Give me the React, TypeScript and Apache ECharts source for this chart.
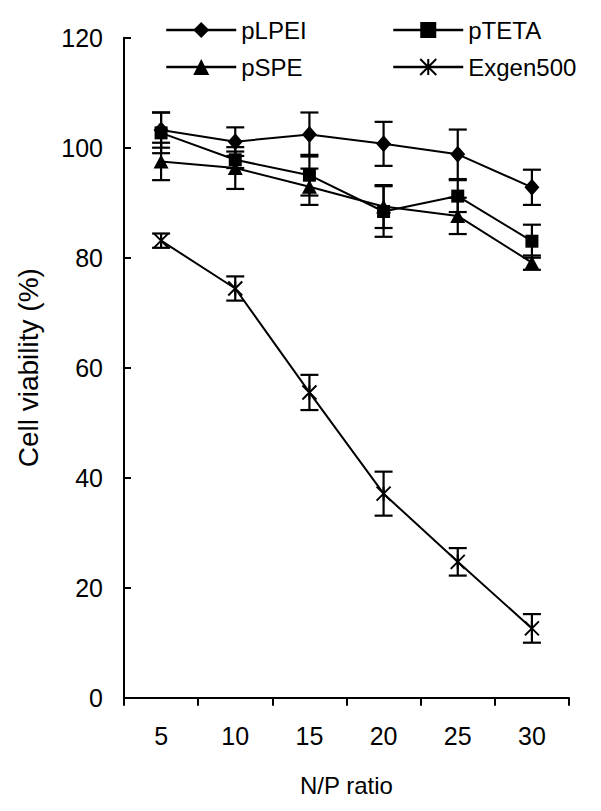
import React, { useEffect, useRef } from "react";
import * as echarts from "echarts";

const categories = ["5", "10", "15", "20", "25", "30"];
const yTicks = [0, 20, 40, 60, 80, 100, 120];

const pLPEI = [103.2, 101.1, 102.4, 100.7, 98.8, 92.8];
const pLPEIErr = [3.2, 2.6, 4.0, 4.0, 4.5, 3.2];
const pTETA = [102.7, 97.8, 95.0, 88.4, 91.2, 83.0];
const pTETAErr = [3.7, 1.5, 3.7, 4.6, 2.9, 3.0];
const pSPE = [97.5, 96.3, 92.9, 89.3, 87.6, 79.1];
const pSPEErr = [3.4, 3.8, 3.3, 3.9, 3.3, 1.3];
const exgen500 = [83.1, 74.4, 55.5, 37.1, 24.7, 12.6];
const exgen500Err = [1.3, 2.2, 3.2, 4.0, 2.5, 2.6];

const FONT = "'Liberation Sans', Arial, sans-serif";
const ASTERISK = "path://M0,0L10,10M10,0L0,10M5,0L5,10";

function errData(vals: number[], errs: number[]) {
  return vals.map((v, i) => [i, v - errs[i], v + errs[i]]);
}

function errorSeries(name: string, vals: number[], errs: number[]) {
  return {
    type: "custom",
    name: name + "-err",
    data: errData(vals, errs),
    z: 3,
    silent: true,
    renderItem: (params: any, api: any) => {
      const i = api.value(0);
      const lo = api.coord([i, api.value(1)]);
      const hi = api.coord([i, api.value(2)]);
      const cap = 9;
      const style = { stroke: "#000", lineWidth: 2.2 };
      return {
        type: "group",
        children: [
          { type: "line", shape: { x1: lo[0], y1: lo[1], x2: hi[0], y2: hi[1] }, style },
          { type: "line", shape: { x1: lo[0] - cap, y1: lo[1], x2: lo[0] + cap, y2: lo[1] }, style },
          { type: "line", shape: { x1: hi[0] - cap, y1: hi[1], x2: hi[0] + cap, y2: hi[1] }, style },
        ],
      };
    },
  };
}

function lineSeries(name: string, vals: number[], symbol: string, size: any, extra: any = {}) {
  return {
    type: "line",
    name,
    data: vals,
    symbol,
    symbolSize: size,
    showSymbol: true,
    color: "#000",
    lineStyle: { color: "#000", width: 2 },
    itemStyle: { color: "#000" },
    z: 4,
    ...extra,
  };
}

export default function App() {
  const ref = useRef<HTMLDivElement>(null);
  useEffect(() => {
    document.body.style.margin = "0";
    const chart = echarts.init(ref.current!, null, { renderer: "svg" });
    const legendCommon = {
      orient: "vertical",
      top: 13,
      itemWidth: 70,
      itemHeight: 20,
      itemGap: 13,
      textStyle: { fontSize: 24, color: "#000", fontFamily: FONT },
      lineStyle: { width: 2.5 },
      selectedMode: false,
    };
    chart.setOption({
      animation: false,
      backgroundColor: "#fff",
      textStyle: { fontFamily: FONT },
      legend: [
        { ...legendCommon, left: 160, data: ["pLPEI", "pSPE"] },
        { ...legendCommon, left: 387, data: ["pTETA", "Exgen500"] },
      ],
      grid: { left: 124, right: 32, top: 37.7, bottom: 113.3, containLabel: false },
      xAxis: {
        type: "category",
        data: categories,
        boundaryGap: true,
        name: "N/P ratio",
        nameLocation: "middle",
        nameGap: 76,
        nameTextStyle: { fontSize: 24, color: "#000", fontFamily: FONT },
        axisLine: { show: true, lineStyle: { color: "#000", width: 2 } },
        axisTick: { show: true, inside: false, length: 8, alignWithLabel: false, interval: 0, lineStyle: { color: "#000", width: 2 } },
        axisLabel: { fontSize: 25, color: "#000", margin: 26, fontFamily: FONT, interval: 0 },
        splitLine: { show: false },
      },
      yAxis: {
        type: "value",
        min: yTicks[0],
        max: yTicks[yTicks.length - 1],
        interval: 20,
        name: "Cell viability (%)",
        nameLocation: "middle",
        nameGap: 82,
        nameTextStyle: { fontSize: 28, color: "#000", fontFamily: FONT },
        axisLine: { show: true, lineStyle: { color: "#000", width: 2 } },
        axisTick: { show: true, inside: true, length: 7, lineStyle: { color: "#000", width: 2 } },
        axisLabel: { fontSize: 25, color: "#000", margin: 21, fontFamily: FONT },
        splitLine: { show: false },
      },
      series: [
        errorSeries("pLPEI", pLPEI, pLPEIErr),
        errorSeries("pTETA", pTETA, pTETAErr),
        errorSeries("pSPE", pSPE, pSPEErr),
        errorSeries("Exgen500", exgen500, exgen500Err),
        lineSeries("pLPEI", pLPEI, "diamond", [15, 17]),
        lineSeries("pTETA", pTETA, "rect", 13),
        lineSeries("pSPE", pSPE, "triangle", [15, 14]),
        lineSeries("Exgen500", exgen500, ASTERISK, 14, {
          itemStyle: { color: "#000", borderColor: "#000", borderWidth: 2 },
        }),
      ],
    });
    return () => chart.dispose();
  }, []);
  return (
    <div
      ref={ref}
      style={{ position: "fixed", left: 0, top: 0, width: 601, height: 811, background: "#fff" }}
    />
  );
}
